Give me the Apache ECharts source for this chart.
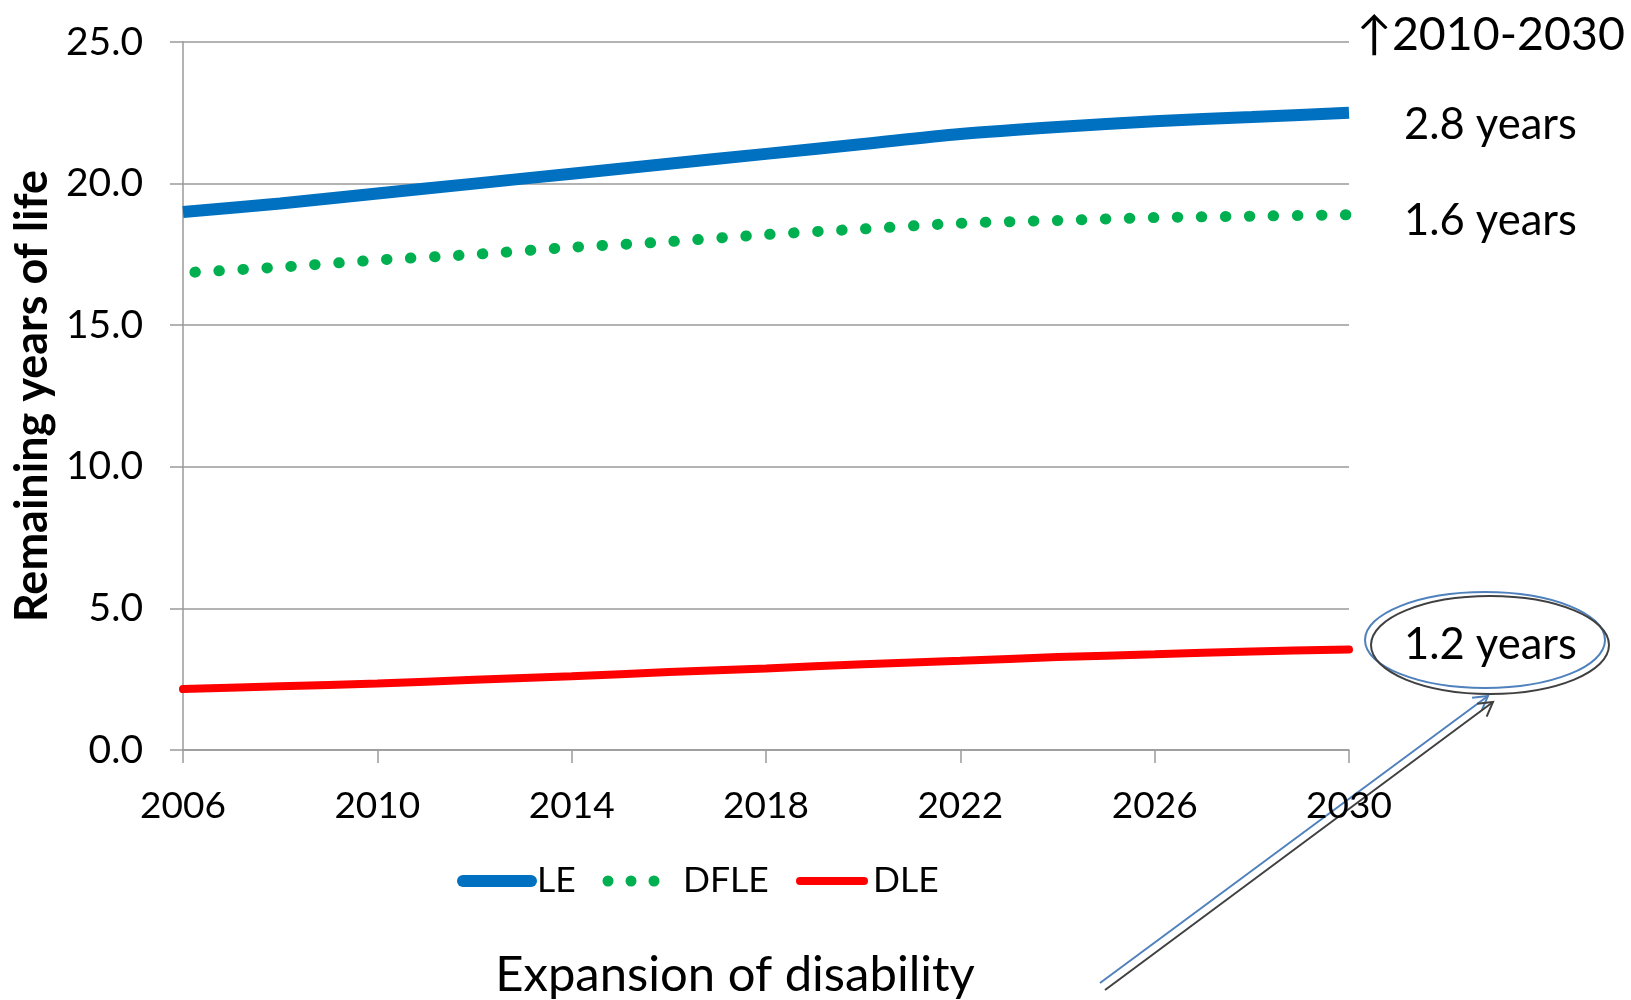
<!DOCTYPE html>
<html>
<head>
<meta charset="utf-8">
<style>
  html, body { margin: 0; padding: 0; background: #fff; }
  #chart { width: 1631px; height: 1000px; }
</style>
<script src="https://cdn.jsdelivr.net/npm/echarts@6/dist/echarts.min.js"></script>
</head>
<body>
<div id="chart"></div>
<script>
// Projected remaining years of life, every second year
const years = ['2006','2008','2010','2012','2014','2016','2018','2020','2022','2024','2026','2028','2030'];
const leValues   = [19.0, 19.3, 19.65, 20.0, 20.35, 20.7, 21.05, 21.4, 21.75, 22.0, 22.2, 22.35, 22.5];
const dfleValues = [16.85, 17.05, 17.3, 17.5, 17.75, 17.95, 18.2, 18.4, 18.6, 18.7, 18.8, 18.85, 18.9];
const dleValues  = [2.15, 2.25, 2.35, 2.48, 2.6, 2.75, 2.88, 3.03, 3.15, 3.28, 3.38, 3.48, 3.55];
const yTicks = [0, 5, 10, 15, 20, 25];
const seriesNames = ['LE', 'DFLE', 'DLE'];

// Change 2010-2030 notes beside the plot
const changeHeader = '\u21912010-2030';
const changeNotes = ['2.8 years', '1.6 years', '1.2 years'];
const caption = 'Expansion of disability';

const FONT = 'Lato, "Noto Sans", sans-serif';
const AXIS_GREY = '#9a9a9a';
const BLUE = '#0070C0', GREEN = '#00B050', RED = '#FF0000';

const chart = echarts.init(document.getElementById('chart'), null, { renderer: 'canvas' });

// Arrow from the caption up to the DLE note
function arrow(x1, y1, x2, y2, color) {
  const dx = x2 - x1, dy = y2 - y1;
  const len = Math.sqrt(dx * dx + dy * dy);
  const ux = dx / len, uy = dy / len;
  const head = 16, ang = Math.PI / 6;
  const rot = (a) => [
    x2 - head * (ux * Math.cos(a) - uy * Math.sin(a)),
    y2 - head * (uy * Math.cos(a) + ux * Math.sin(a))
  ];
  return [
    { type: 'line', shape: { x1, y1, x2, y2 }, style: { stroke: color, lineWidth: 2 } },
    { type: 'polyline', shape: { points: [rot(ang), [x2, y2], rot(-ang)] },
      style: { stroke: color, lineWidth: 2, fill: null } }
  ];
}

function label(text, x, y, size, align) {
  return { type: 'text', x, y,
    style: { text, fontFamily: FONT, fontSize: size, fill: '#000',
      align: align || 'left', verticalAlign: 'middle' } };
}

// Legend row under the axis
const LEG_Y = 881;
const LEG_FONT = 35.5;
const legendItems = [
  { type: 'line', shape: { x1: 463, y1: LEG_Y, x2: 531, y2: LEG_Y },
    style: { stroke: BLUE, lineWidth: 12, lineCap: 'round' } },
  label(seriesNames[0], 537, LEG_Y, LEG_FONT),
  { type: 'circle', shape: { cx: 608, cy: LEG_Y, r: 5.5 }, style: { fill: GREEN } },
  { type: 'circle', shape: { cx: 631, cy: LEG_Y, r: 5.5 }, style: { fill: GREEN } },
  { type: 'circle', shape: { cx: 654, cy: LEG_Y, r: 5.5 }, style: { fill: GREEN } },
  label(seriesNames[1], 683, LEG_Y, LEG_FONT),
  { type: 'line', shape: { x1: 800, y1: LEG_Y, x2: 864, y2: LEG_Y },
    style: { stroke: RED, lineWidth: 8, lineCap: 'round' } },
  label(seriesNames[2], 873, LEG_Y, LEG_FONT)
];

const option = {
  backgroundColor: '#ffffff',
  animation: false,
  grid: { left: 183, right: 282, top: 42, bottom: 250, containLabel: false, outerBoundsMode: 'none' },
  xAxis: {
    type: 'category',
    data: years,
    boundaryGap: false,
    axisLine: { lineStyle: { color: AXIS_GREY, width: 1.5 } },
    axisTick: { show: true, inside: false, length: 13, interval: 1, lineStyle: { color: AXIS_GREY, width: 1.5 } },
    axisLabel: { interval: 1, margin: 38, fontFamily: FONT, fontSize: 37, color: '#000' },
    splitLine: { show: false }
  },
  yAxis: {
    type: 'value',
    min: yTicks[0], max: yTicks[yTicks.length - 1], interval: 5,
    name: 'Remaining years of life',
    nameLocation: 'middle', nameGap: 128, nameRotate: 90,
    nameTextStyle: { fontFamily: FONT, fontSize: 45, fontWeight: 'bold', color: '#000' },
    axisLine: { show: true, lineStyle: { color: AXIS_GREY, width: 1.5 } },
    axisTick: { show: true, inside: false, length: 13, lineStyle: { color: AXIS_GREY, width: 1.5 } },
    axisLabel: { margin: 40, fontFamily: FONT, fontSize: 39, color: '#000',
      formatter: (v) => v.toFixed(1) },
    splitLine: { show: true, lineStyle: { color: AXIS_GREY, width: 1.5 } }
  },
  series: [
    { name: seriesNames[0], type: 'line', data: leValues, smooth: 0.3, symbol: 'none',
      lineStyle: { color: BLUE, width: 12, cap: 'butt' }, itemStyle: { color: BLUE } },
    { name: seriesNames[1], type: 'line', data: dfleValues, smooth: 0.3, symbol: 'none',
      lineStyle: { color: GREEN, width: 11, type: [0.5, 23.5], dashOffset: -12, cap: 'round' }, itemStyle: { color: GREEN } },
    { name: seriesNames[2], type: 'line', data: dleValues, smooth: 0.3, symbol: 'none',
      lineStyle: { color: RED, width: 8, cap: 'round' }, itemStyle: { color: RED } }
  ],
  graphic: [
    label(changeHeader, 1357, 35, 46.5),
    label(changeNotes[0], 1404, 125, 43.5),
    label(changeNotes[1], 1404, 221, 43.5),
    label(changeNotes[2], 1404, 645, 43.5),
    { type: 'ellipse', shape: { cx: 1485, cy: 640, rx: 120, ry: 48 },
      style: { stroke: '#4F81BD', lineWidth: 2, fill: null } },
    { type: 'ellipse', shape: { cx: 1490, cy: 645, rx: 119, ry: 49 },
      style: { stroke: '#404040', lineWidth: 2, fill: null } },
    ...arrow(1100, 983, 1488, 696, '#4F81BD'),
    ...arrow(1105, 990, 1493, 702, '#404040'),
    ...legendItems,
    label(caption, 735, 975, 49, 'center')
  ]
};

chart.setOption(option);
</script>
</body>
</html>
